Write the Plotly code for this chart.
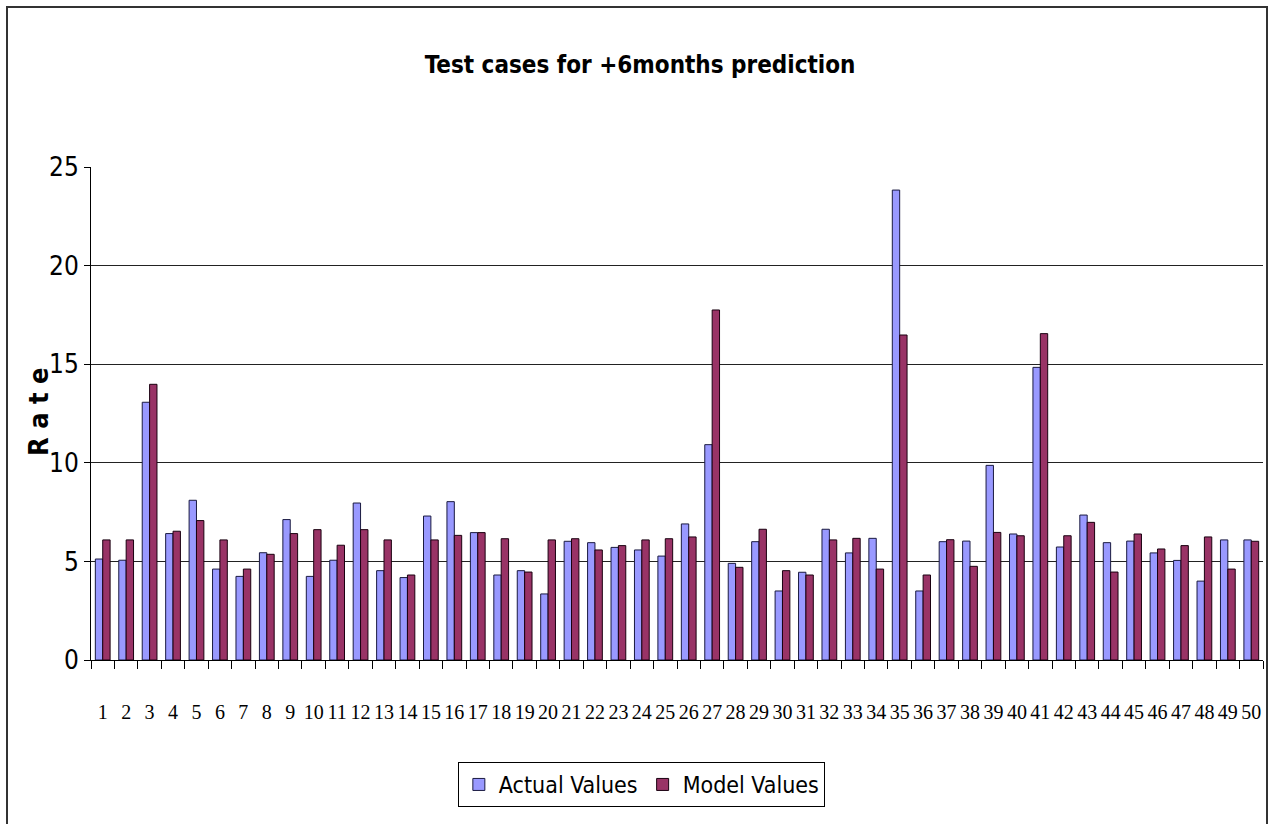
import plotly.graph_objects as go

# Test case numbers and the two series of rates
cases = [str(i) for i in range(1, 51)]

actual_values = [
    5.12, 5.06, 13.07, 6.41, 8.10, 4.61, 4.24, 5.44, 7.12, 4.24,
    5.06, 7.96, 4.53, 4.18, 7.30, 8.03, 6.46, 4.31, 4.53, 3.35,
    6.02, 5.95, 5.71, 5.58, 5.27, 6.90, 10.92, 4.90, 6.00, 3.50,
    4.45, 6.63, 5.43, 6.17, 23.83, 3.50, 6.00, 6.03, 9.87, 6.39,
    14.84, 5.73, 7.35, 5.95, 6.03, 5.43, 5.05, 4.00, 6.09, 6.09,
]

model_values = [
    6.09, 6.09, 13.98, 6.53, 7.07, 6.09, 4.61, 5.36, 6.41, 6.61,
    5.82, 6.61, 6.09, 4.31, 6.09, 6.32, 6.46, 6.15, 4.46, 6.09,
    6.15, 5.58, 5.80, 6.09, 6.15, 6.24, 17.75, 4.70, 6.63, 4.53,
    4.31, 6.09, 6.17, 4.61, 16.48, 4.31, 6.10, 4.75, 6.47, 6.30,
    16.55, 6.30, 6.98, 4.46, 6.39, 5.63, 5.80, 6.24, 4.61, 6.02,
]

y_ticks = [0, 5, 10, 15, 20, 25]

W, H = 1270, 824
ML, MR, MT, MB = 91, 7, 167, 164

narrow = "DejaVu Sans Condensed, Liberation Sans Narrow, Arial Narrow, Liberation Sans, sans-serif"
serif = "Liberation Serif, Times New Roman, serif"

fig = go.Figure()
fig.add_trace(go.Bar(
    x=cases, y=actual_values, name="Actual Values",
    marker=dict(color="#9999FF", line=dict(color="#1a1a40", width=1)),
))
fig.add_trace(go.Bar(
    x=cases, y=model_values, name="Model Values",
    marker=dict(color="#993366", line=dict(color="#1a0010", width=1)),
))

# outer chart frame, expressed in paper coordinates of the plot area
pw, ph = W - ML - MR, H - MT - MB
def px_x(v):
    return (v - ML) / pw
def px_y(v):
    return (H - MB - v) / ph

fig.add_shape(type="rect", xref="paper", yref="paper",
              x0=px_x(7), x1=px_x(1267), y0=px_y(830), y1=px_y(7),
              line=dict(color="#333333", width=2), fillcolor="rgba(0,0,0,0)",
              layer="below")

# vertical axis caption
fig.add_annotation(text="<b>R a t e</b>", xref="paper", yref="paper",
                   x=px_x(38), y=px_y(412), xanchor="center", yanchor="middle",
                   textangle=-90, showarrow=False,
                   font=dict(family=narrow, size=27, color="black"))

fig.update_layout(
    width=W, height=H,
    margin=dict(l=ML, r=MR, t=MT, b=MB),
    paper_bgcolor="white", plot_bgcolor="white",
    barmode="group", bargap=0.37, bargroupgap=0.0,
    title=dict(text="<b>Test cases for +6months prediction</b>",
               x=0.504, xanchor="center", y=1 - 65 / H, yanchor="middle",
               font=dict(family=narrow, size=24, color="black")),
    showlegend=True,
    legend=dict(orientation="h", xref="container", yref="container",
                x=0.505, xanchor="center", y=1 - 762 / H, yanchor="top",
                bordercolor="black", borderwidth=1, bgcolor="white",
                font=dict(family=narrow, size=23, color="black"),
                itemwidth=30, tracegroupgap=0),
    font=dict(family=narrow, color="black"),
)

fig.update_xaxes(
    type="category", showgrid=False, showline=True, linecolor="black",
    linewidth=1, ticks="outside", ticklen=8, tickcolor="black",
    tickmode="array", tickvals=cases, ticktext=cases,
    tickson="boundaries", ticklabelstandoff=34, tickangle=0,
    tickfont=dict(family=serif, size=20, color="black"),
    mirror=False,
)
fig.update_yaxes(
    range=[0, 25], tickvals=y_ticks, showgrid=True, gridcolor="#222222",
    gridwidth=1, showline=True, linecolor="black", linewidth=1,
    ticks="outside", ticklen=6, tickcolor="black", zeroline=False,
    tickfont=dict(family=narrow, size=26, color="black"),
)

fig.write_html("out.html")
